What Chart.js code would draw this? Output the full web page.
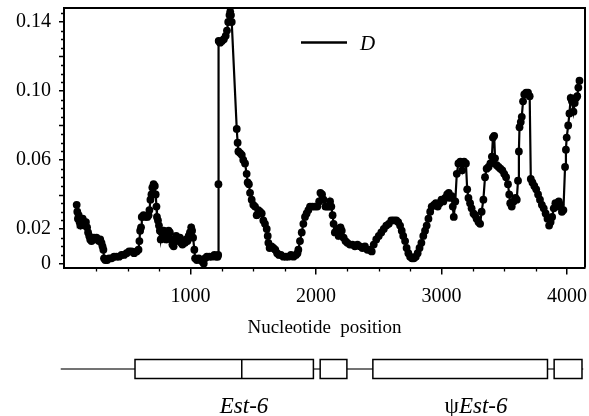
<!DOCTYPE html>
<html>
<head>
<meta charset="utf-8">
<script src="https://cdn.jsdelivr.net/npm/chart.js@4/dist/chart.umd.min.js"></script>
<style>
  html, body { margin: 0; padding: 0; background: #fff; }
  #wrap { width: 589px; height: 416px; }
</style>
</head>
<body>
<div id="wrap"><canvas id="chart" width="589" height="416"></canvas></div>
<script>
// nucleotide position (window midpoint) and divergence D
var positions = [
  92, 97, 102, 108, 115, 122, 130, 140, 150, 158, 166, 175, 183, 192, 200, 210, 220, 230, 240, 250,
  260, 270, 280, 290, 298, 305, 310, 320, 335, 350, 370, 390, 410, 430, 450, 470, 490, 510, 530, 550,
  570, 585, 592, 598, 605, 611, 625, 640, 655, 665, 672, 680, 688, 695, 705, 715, 722, 728, 732, 740,
  748, 755, 762, 770, 778, 786, 795, 805, 815, 825, 835, 845, 855, 865, 875, 885, 895, 905, 915, 925,
  935, 945, 955, 965, 975, 985, 995, 1005, 1012, 1020, 1030, 1036, 1050, 1065, 1080, 1095, 1105, 1115, 1130, 1150,
  1170, 1190, 1205, 1215, 1220, 1222, 1224, 1235, 1250, 1265, 1280, 1290, 1300, 1310, 1316, 1322, 1328, 1368, 1375, 1381,
  1395, 1408, 1420, 1434, 1447, 1455, 1465, 1474, 1487, 1500, 1514, 1527, 1540, 1554, 1567, 1580, 1593, 1607, 1615, 1620,
  1630, 1645, 1660, 1675, 1690, 1705, 1720, 1740, 1760, 1780, 1800, 1820, 1840, 1852, 1859, 1872, 1886, 1899, 1912, 1925,
  1939, 1952, 1970, 1990, 2010, 2025, 2035, 2048, 2060, 2075, 2090, 2105, 2112, 2122, 2132, 2140, 2150, 2165, 2180, 2195,
  2205, 2220, 2235, 2250, 2270, 2290, 2310, 2330, 2350, 2370, 2390, 2410, 2430, 2444, 2460, 2480, 2500, 2520, 2540, 2560,
  2580, 2600, 2620, 2640, 2655, 2670, 2683, 2695, 2710, 2722, 2736, 2750, 2765, 2780, 2795, 2810, 2825, 2840, 2855, 2869,
  2882, 2896, 2910, 2922, 2940, 2955, 2970, 2985, 3000, 3015, 3030, 3045, 3058, 3070, 3082, 3090, 3098, 3110, 3122, 3135,
  3150, 3165, 3180, 3195, 3205, 3215, 3228, 3240, 3255, 3268, 3280, 3295, 3308, 3320, 3334, 3347, 3360, 3375, 3390, 3402,
  3410, 3420, 3427, 3440, 3455, 3470, 3485, 3500, 3515, 3530, 3540, 3548, 3560, 3575, 3590, 3600, 3610, 3617, 3622, 3632,
  3640, 3650, 3660, 3675, 3690, 3703, 3712, 3725, 3740, 3755, 3770, 3785, 3800, 3815, 3830, 3845, 3858, 3870, 3882, 3895,
  3908, 3920, 3935, 3948, 3960, 3972, 3985, 3992, 3998, 4010, 4020, 4030, 4040, 4052, 4062, 4072, 4082, 4091, 4100
];
var divergence = [
  .034, .030, .026, .028, .024, .022, .025, .026, .024, .022, .024, .021, .018, .016, .014, .013, .014, .015, .014, .015,
  .014, .013, .014, .012, .010, .008, .003, .002, .002, .003, .003, .004, .004, .004, .005, .005, .006, .007, .007, .006,
  .007, .008, .013, .019, .021, .027, .028, .027, .027, .028, .031, .037, .040, .044, .046, .045, .040, .033, .027, .025,
  .022, .019, .014, .018, .016, .019, .017, .014, .017, .019, .018, .014, .011, .010, .013, .016, .015, .013, .015, .012,
  .011, .013, .012, .014, .013, .016, .018, .021, .019, .015, .008, .003, .002, .003, .002, .001, .000, .003, .004, .004,
  .004, .005, .004, .004, .005, .046, .129, .128, .129, .130, .132, .135, .140, .144, .146, .144, .140, .078, .070, .065,
  .064, .063, .060, .058, .052, .047, .046, .041, .037, .034, .033, .028, .031, .030, .029, .025, .023, .020, .016, .012,
  .009, .010, .009, .008, .006, .005, .005, .004, .004, .004, .005, .004, .005, .006, .008, .013, .018, .023, .027, .029,
  .031, .033, .033, .033, .033, .036, .041, .040, .037, .033, .033, .033, .036, .033, .028, .023, .018, .020, .016, .021,
  .019, .015, .013, .012, .011, .011, .010, .011, .010, .009, .010, .008, .008, .007, .011, .014, .016, .018, .020, .022,
  .023, .025, .025, .025, .024, .022, .019, .016, .013, .009, .006, .004, .003, .003, .004, .006, .009, .012, .016, .019,
  .022, .026, .030, .033, .034, .035, .033, .035, .037, .036, .038, .040, .041, .038, .039, .033, .027, .036, .052, .058,
  .059, .054, .059, .058, .043, .038, .035, .032, .029, .028, .026, .024, .023, .030, .037, .050, .055, .056, .058, .062,
  .073, .074, .061, .057, .056, .055, .054, .052, .050, .046, .040, .035, .033, .036, .038, .037, .048, .065, .079, .082,
  .085, .094, .098, .099, .099, .097, .049, .047, .045, .043, .040, .037, .034, .032, .029, .026, .022, .024, .027, .032,
  .035, .033, .036, .034, .030, .031, .056, .066, .073, .080, .087, .096, .094, .088, .093, .096, .097, .102, .106
];
var xTicks = [1000, 2000, 3000, 4000];
var yTicks = [0, 0.02, 0.06, 0.10, 0.14];
var seriesName = 'D';
var xTitle = 'Nucleotide  position';

// gene map under the axis, in nucleotide coordinates
var geneSpan = [-35, 4130];
var exons = [[557, 1979], [2033, 2246], [2453, 3845], [3898, 4120]];
var exonSplits = [1408];
var geneNames = ['Est-6', 'Est-6'];
var genePrefixes = ['', '\u03c8'];
var geneCentres = [1426, 3275];

var serif = '"Liberation Serif", "Times New Roman", serif';
Chart.defaults.font.family = serif;
Chart.defaults.color = '#000';

var points = positions.map(function(p, i){ return { x: p, y: divergence[i] }; });

var extras = {
  id: 'extras',
  afterDraw: function(chart){
    var ctx = chart.ctx;
    var a = chart.chartArea;
    var xs = chart.scales.x;
    var ys = chart.scales.y;
    var i, v, px, py;
    ctx.save();
    ctx.strokeStyle = '#000';

    // top and right frame
    ctx.lineWidth = 2;
    ctx.beginPath();
    ctx.moveTo(a.left, a.top);
    ctx.lineTo(a.right, a.top);
    ctx.lineTo(a.right, a.bottom);
    ctx.stroke();

    // minor ticks
    ctx.lineWidth = 1.3;
    ctx.beginPath();
    for (v = 250; v < 4100; v += 250){
      if (v % 1000 === 0) continue;
      px = Math.round(xs.getPixelForValue(v)) + 0.5;
      ctx.moveTo(px, a.bottom);
      ctx.lineTo(px, a.bottom + 4);
    }
    for (i = 1; i <= 29; i++){
      v = i * 0.005;
      if (yTicks.some(function(t){ return Math.abs(t - v) < 1e-9; })) continue;
      py = Math.round(ys.getPixelForValue(v)) + 0.5;
      ctx.moveTo(a.left, py);
      ctx.lineTo(a.left - (i % 4 === 0 ? 5 : 3), py);
    }
    ctx.stroke();

    // legend
    ctx.lineWidth = 2.5;
    ctx.beginPath();
    ctx.moveTo(a.left + 237, 42.5);
    ctx.lineTo(a.left + 283, 42.5);
    ctx.stroke();
    ctx.fillStyle = '#000';
    ctx.font = 'italic 21px ' + serif;
    ctx.textBaseline = 'alphabetic';
    ctx.textAlign = 'left';
    ctx.fillText(seriesName, a.left + 296, 49.5);

    // gene map
    var top = 359.5, h = 19, mid = top + h / 2;
    ctx.strokeStyle = '#444';
    ctx.lineWidth = 1.5;
    ctx.beginPath();
    ctx.moveTo(xs.getPixelForValue(geneSpan[0]), mid);
    ctx.lineTo(xs.getPixelForValue(geneSpan[1]), mid);
    ctx.stroke();
    ctx.strokeStyle = '#000';
    exons.forEach(function(e){
      var x0 = xs.getPixelForValue(e[0]);
      var x1 = xs.getPixelForValue(e[1]);
      ctx.fillStyle = '#fff';
      ctx.fillRect(x0, top, x1 - x0, h);
      ctx.strokeRect(x0, top, x1 - x0, h);
    });
    exonSplits.forEach(function(s){
      var sx = xs.getPixelForValue(s);
      ctx.beginPath();
      ctx.moveTo(sx, top);
      ctx.lineTo(sx, top + h);
      ctx.stroke();
    });

    // gene names: optional upright prefix, italic name
    ctx.fillStyle = '#000';
    geneNames.forEach(function(name, k){
      var pre = genePrefixes[k];
      ctx.font = '23px ' + serif;
      var wPre = pre ? ctx.measureText(pre).width : 0;
      ctx.font = 'italic 23px ' + serif;
      var wName = ctx.measureText(name).width;
      var start = xs.getPixelForValue(geneCentres[k]) - (wPre + wName) / 2;
      if (pre){
        ctx.font = '23px ' + serif;
        ctx.fillText(pre, start, 413);
      }
      ctx.font = 'italic 23px ' + serif;
      ctx.fillText(name, start + wPre, 413);
    });
    ctx.restore();
  }
};

new Chart(document.getElementById('chart'), {
  type: 'line',
  data: {
    datasets: [{
      label: seriesName,
      data: points,
      borderColor: '#000',
      borderWidth: 2.2,
      backgroundColor: '#000',
      pointBackgroundColor: '#000',
      pointBorderWidth: 0,
      pointRadius: 3.9,
      tension: 0,
      fill: false
    }]
  },
  options: {
    responsive: false,
    animation: false,
    devicePixelRatio: 1,
    layout: { padding: { top: 8, right: 4, left: 0, bottom: 0 } },
    plugins: { legend: { display: false }, tooltip: { enabled: false } },
    scales: {
      x: {
        type: 'linear',
        min: -9,
        max: 4144,
        afterBuildTicks: function(s){ s.ticks = xTicks.map(function(v){ return { value: v }; }); },
        afterFit: function(s){ s.height = 148.5; s.paddingLeft = 0; s.paddingRight = 0; },
        grid: { drawOnChartArea: false, drawTicks: true, tickLength: 7, color: '#000', lineWidth: 1.5 },
        border: { display: true, color: '#000', width: 2 },
        ticks: {
          color: '#000', font: { size: 20 }, padding: 10, maxRotation: 0, autoSkip: false,
          callback: function(v){ return String(v); }
        },
        title: { display: true, text: xTitle, color: '#000', font: { size: 19 }, padding: { top: 0, bottom: 77 } }
      },
      y: {
        min: -0.0023,
        max: 0.1481,
        afterBuildTicks: function(s){ s.ticks = yTicks.map(function(v){ return { value: v }; }); },
        afterFit: function(s){ s.width = 64; s.paddingTop = 0; s.paddingBottom = 0; },
        grid: { drawOnChartArea: false, drawTicks: true, tickLength: 5, color: '#000', lineWidth: 1.5 },
        border: { display: true, color: '#000', width: 2 },
        ticks: {
          color: '#000', font: { size: 20 }, padding: 8, autoSkip: false,
          callback: function(v){ return v === 0 ? '0' : v.toFixed(2); }
        }
      }
    }
  },
  plugins: [extras]
});
</script>
</body>
</html>
